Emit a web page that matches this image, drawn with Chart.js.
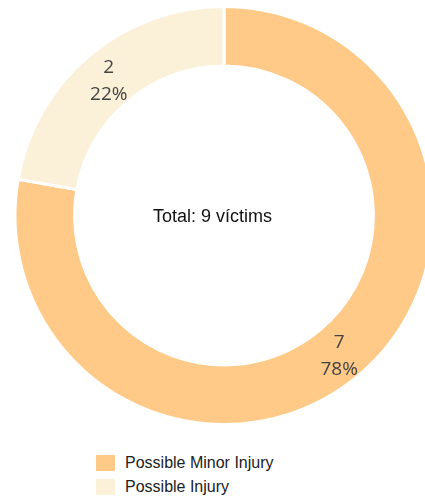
<!DOCTYPE html>
<html>
<head>
<meta charset="utf-8">
<script src="https://cdn.jsdelivr.net/npm/chart.js@4/dist/chart.umd.min.js"></script>
<style>
  html, body { margin: 0; padding: 0; background: #fff; overflow: hidden; width: 425px; height: 498px; }
  #wrap { position: absolute; left: 0; top: 0; width: 448px; height: 432px; }
  #legend { position: absolute; left: 96px; top: 451px; font-family: "Liberation Sans", Arial, sans-serif; font-size: 16px; color: #222; }
  .item { display: flex; align-items: center; height: 24px; }
  .box { width: 19px; height: 16px; margin-right: 10px; }
</style>
</head>
<body>
<div id="wrap"><canvas id="c" width="448" height="432"></canvas></div>
<div id="legend"></div>
<script>
const categories = ['Possible Minor Injury', 'Possible Injury'];
const victims = [7, 2];
const sliceColors = ['#FFCA87', '#FBF0D8'];
const centerLabel = 'Total: {n} víctims';

const total = victims.reduce((a, b) => a + b, 0);

const centerText = {
  id: 'centerText',
  afterDraw(chart) {
    const {ctx, chartArea} = chart;
    const x = 212.5;
    const y = (chartArea.top + chartArea.bottom) / 2 + 1.5;
    ctx.save();
    ctx.font = '18px "Liberation Sans", Arial, sans-serif';
    ctx.fillStyle = '#111';
    ctx.textAlign = 'center';
    ctx.textBaseline = 'middle';
    ctx.fillText(centerLabel.replace('{n}', total), x, y);
    ctx.restore();
  }
};

const sliceLabels = {
  id: 'sliceLabels',
  afterDatasetsDraw(chart) {
    const {ctx} = chart;
    const meta = chart.getDatasetMeta(0);
    const data = chart.data.datasets[0].data;
    ctx.save();
    ctx.font = '19px "Open Sans", sans-serif';
    ctx.fillStyle = '#444';
    ctx.textAlign = 'center';
    ctx.textBaseline = 'middle';
    meta.data.forEach((arc, i) => {
      const p = arc.tooltipPosition();
      const v = data[i];
      const pct = Math.round(v / total * 100) + '%';
      ctx.fillText(String(v), p.x, p.y - 10.5);
      ctx.fillText(pct, p.x, p.y + 16.5);
    });
    ctx.restore();
  }
};

const chart = new Chart(document.getElementById('c'), {
  type: 'doughnut',
  data: {
    labels: categories,
    datasets: [{
      data: victims,
      backgroundColor: sliceColors,
      borderColor: '#ffffff',
      borderWidth: 3,
      hoverOffset: 0
    }]
  },
  options: {
    responsive: false,
    animation: false,
    cutout: '71.5%',
    layout: { padding: { top: 5, bottom: 6, left: 0, right: 0 } },
    plugins: {
      legend: { display: false },
      tooltip: { enabled: false }
    }
  },
  plugins: [centerText, sliceLabels]
});

const legendEl = document.getElementById('legend');
const items = Chart.overrides.doughnut.plugins.legend.labels.generateLabels(chart);
items.forEach(it => {
  const row = document.createElement('div');
  row.className = 'item';
  const box = document.createElement('span');
  box.className = 'box';
  box.style.background = it.fillStyle;
  const txt = document.createElement('span');
  txt.textContent = it.text;
  row.appendChild(box);
  row.appendChild(txt);
  legendEl.appendChild(row);
});
</script>
</body>
</html>
